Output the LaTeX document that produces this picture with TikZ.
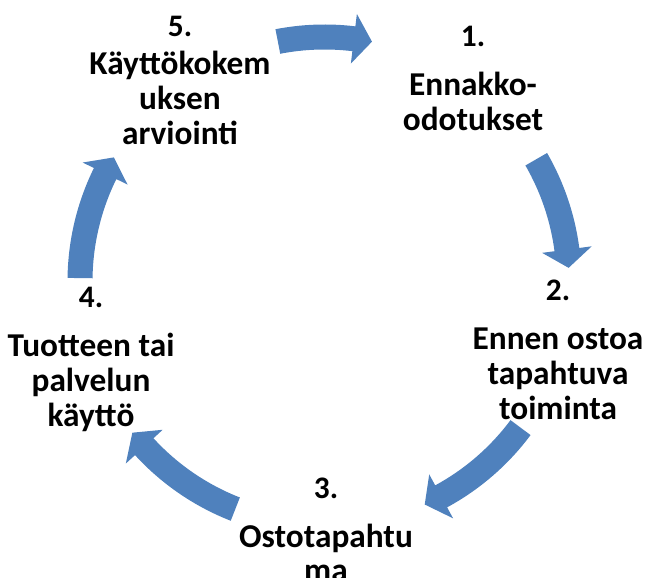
\documentclass[tikz,border=0pt]{standalone}
\usepackage{fontspec}
\setmainfont{Carlito}
\definecolor{cycblue}{HTML}{4F81BD}
\begin{document}
\begin{tikzpicture}[x=0.75pt,y=0.75pt,
  steplabel/.style={align=center,inner sep=0pt,anchor=base,font=\bfseries\fontsize{25}{26.25}\selectfont}]
	\useasboundingbox (0,0) rectangle (646,578);
	\coordinate (c) at (324.5,296.5);

	% labels, placed at the baseline of their last line
	\node [steplabel] (s1) at (473,447) {{\fontsize{23.5}{24}\selectfont 1.}\\[10.5pt] Ennakko-\\odotukset};
	\node [steplabel] (s2) at (558,158) {{\fontsize{23.5}{24}\selectfont 2.}\\[10.5pt] Ennen ostoa\\tapahtuva\\toiminta};
	\node [steplabel] (s3) at (326,-4) {{\fontsize{23.5}{24}\selectfont 3.}\\[10.5pt] Ostotapahtu\\ma};
	\node [steplabel] (s4) at (91,151) {{\fontsize{23.5}{24}\selectfont 4.}\\[10.5pt] Tuotteen tai\\palvelun\\käyttö};
	\node [steplabel] (s5) at (180,433) {{\fontsize{23.5}{24}\selectfont 5.}\\[2.25pt] Käyttökokem\\uksen\\arviointi};

	% curved block arrows round the cycle
	\foreach \a/\b in {101/78.8, 30/3.2, -36.7/-65.8, -111.4/-141.8, 179.2/149.5}
	  {\pgfmathsetmacro{\h}{\b+4.3}
	   \fill[cycblue,shift={(c)}] (\a:257) arc[start angle=\a,end angle=\h,radius=257]
	     -- (\h:269.5) -- (\b:244.5) -- (\h:219.5) -- (\h:232)
	     arc[start angle=\h,end angle=\a,radius=232] -- cycle;}
\end{tikzpicture}
\end{document}
